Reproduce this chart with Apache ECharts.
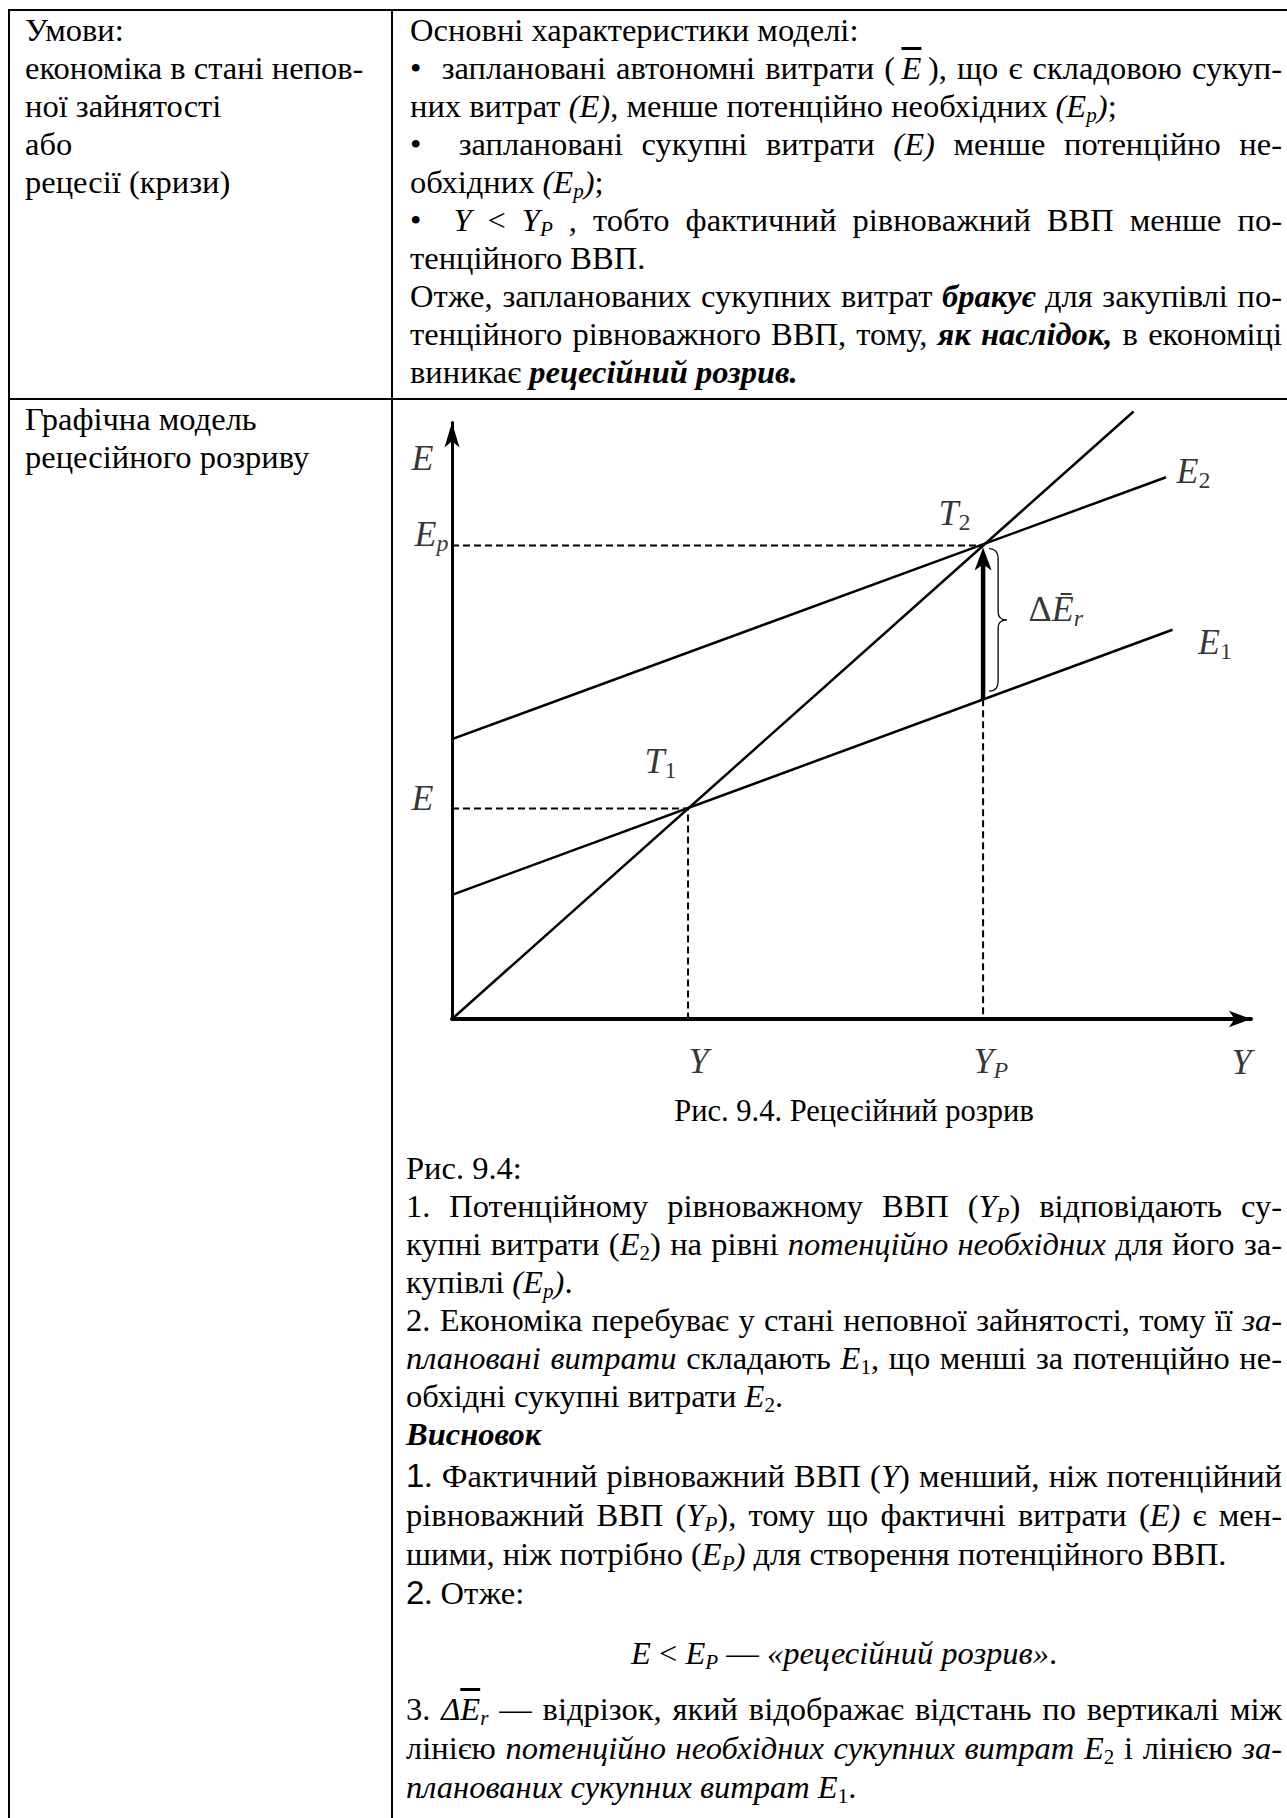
<!DOCTYPE html>
<html lang="uk">
<head>
<meta charset="utf-8">
<title>Рецесійний розрив</title>
<script src="https://cdn.jsdelivr.net/npm/echarts@6/dist/echarts.min.js"></script>
<style>
  html, body { margin: 0; padding: 0; background: #fff; }
  body {
    width: 1287px; height: 1818px; overflow: hidden; position: relative;
    font-family: 'Liberation Serif', 'Times New Roman', serif;
    font-size: 32.5px; line-height: 38px; color: #000;
  }
  .rule { position: absolute; background: #000; }
  .cell { position: absolute; }
  .j { text-align: justify; text-align-last: justify; }
  .c { text-align: center; }
  sub { font-size: 0.65em; line-height: 0; vertical-align: -0.25em; }
  .bar { text-decoration: overline; }
  .num { font-family: 'Liberation Sans', sans-serif; font-size: 33px; line-height: 0; }
  #chart { position: absolute; left: 393px; top: 400px; width: 894px; height: 692px; }
  #caption { position: absolute; left: 410px; top: 1092px; width: 888px; font-size: 30.5px; text-align: center; }
</style>
</head>
<body>
  <!-- рамка таблиці -->
  <div class="rule" style="left:8px; top:9px; width:1290px; height:2px"></div>
  <div class="rule" style="left:8px; top:398px; width:1290px; height:2px"></div>
  <div class="rule" style="left:8px; top:9px; width:2px; height:1820px"></div>
  <div class="rule" style="left:391px; top:9px; width:2px; height:1820px"></div>

  <div class="cell" style="left:25px; top:11px; width:360px">
    <div>Умови:</div>
    <div>економіка в стані непов-</div>
    <div>ної зайнятості</div>
    <div>або</div>
    <div>рецесії (кризи)</div>
  </div>

  <div class="cell" style="left:410px; top:11px; width:872px">
    <div>Основні характеристики моделі:</div>
    <div class="j">•&nbsp; заплановані автономні витрати (&thinsp;<i class="bar">E</i>&thinsp;), що є складовою сукуп-</div>
    <div>них витрат <i>(E)</i>, менше потенційно необхідних <i>(E<sub>p</sub>)</i>;</div>
    <div class="j">•&nbsp; заплановані сукупні витрати <i>(E)</i> менше потенційно не-</div>
    <div>обхідних <i>(E<sub>p</sub>)</i>;</div>
    <div class="j">•&nbsp; <i>Y</i> &lt; <i>Y<sub>P</sub></i> , тобто фактичний рівноважний ВВП менше по-</div>
    <div>тенційного ВВП.</div>
    <div class="j">Отже, запланованих сукупних витрат <b><i>бракує</i></b> для закупівлі по-</div>
    <div class="j">тенційного рівноважного ВВП, тому, <b><i>як наслідок,</i></b> в економіці</div>
    <div>виникає <b><i>рецесійний розрив.</i></b></div>
  </div>

  <div class="cell" style="left:25px; top:400px; width:360px">
    <div>Графічна модель</div>
    <div>рецесійного розриву</div>
  </div>

  <div id="chart"></div>
  <div id="caption">Рис. 9.4. Рецесійний розрив</div>

  <div class="cell" style="left:406px; top:1149px; width:876px">
    <div>Рис. 9.4:</div>
    <div class="j">1. Потенційному рівноважному ВВП (<i>Y<sub>P</sub></i>) відповідають су-</div>
    <div class="j">купні витрати (<i>E</i><sub>2</sub>) на рівні <i>потенційно необхідних</i> для його за-</div>
    <div>купівлі <i>(E<sub>p</sub>)</i>.</div>
    <div class="j">2. Економіка перебуває у стані неповної зайнятості, тому її <i>за-</i></div>
    <div class="j"><i>плановані витрати</i> складають <i>E</i><sub>1</sub>, що менші за потенційно не-</div>
    <div>обхідні сукупні витрати <i>E</i><sub>2</sub>.</div>
    <div><b><i>Висновок</i></b></div>
    <div style="margin-top:3.5px; line-height:39px">
      <div class="j"><span class="num">1</span>. Фактичний рівноважний ВВП (<i>Y</i>) менший, ніж потенційний</div>
      <div class="j">рівноважний ВВП (<i>Y<sub>P</sub></i>), тому що фактичні витрати (<i>E)</i> є мен-</div>
      <div>шими, ніж потрібно (<i>E<sub>P</sub>)</i> для створення потенційного ВВП.</div>
      <div><span class="num">2</span>. Отже:</div>
    </div>
    <div class="c" style="margin-top:21.5px"><i>E</i> &lt; <i>E<sub>P</sub></i> — <i>«рецесійний розрив»</i>.</div>
    <div style="margin-top:17.5px; line-height:39px">
      <div class="j">3. <i>Δ<span class="bar">E</span><sub>r</sub></i> — відрізок, який відображає відстань по вертикалі між</div>
      <div class="j">лінією <i>потенційно необхідних сукупних витрат E</i><sub>2</sub> і лінією <i>за-</i></div>
      <div><i>планованих сукупних витрат E</i><sub>1</sub>.</div>
    </div>
  </div>

<script>
// значення, умовні одиниці
const incomeLevels = [4, 9];          // Y, Y_P
const spendLevels = [4, 9];           // E, E_p
const diagLine = [[0, 0], [11.55, 11.55]];   // лінія 45°
const e1Line = [[0, 2.36], [12.21, 7.4]];    // заплановані витрати E1
const e2Line = [[0, 5.32], [12.1, 10.3]];    // потенційно необхідні E2
const e1AtYp = 6.08;                  // E1 при Y_P
const axisMax = [13.54, 11.34];

const ink = '#000';
const serif = 'Liberation Serif';
const [yLow, yPot] = incomeLevels;
const [eLow, ePot] = spendLevels;

const chart = echarts.init(document.getElementById('chart'), null, { renderer: 'svg' });

const rich = {
  i: { fontFamily: serif, fontStyle: 'italic', fontSize: 36, lineHeight: 42, color: ink },
  d: { fontFamily: serif, fontSize: 36, lineHeight: 42, color: ink },
  s: { fontFamily: serif, fontSize: 24, lineHeight: 24, padding: [18, 0, 0, 0], color: ink },
  si: { fontFamily: serif, fontStyle: 'italic', fontSize: 24, lineHeight: 24, padding: [18, 0, 0, 0], color: ink }
};

function tag(value, text, dx, dy) {
  return { value: value, label: { formatter: text, position: [dx, dy] } };
}

const labelData = [
  tag([0, axisMax[1]], '{i|E}', -40, 36),
  tag([0, ePot], '{i|E}{si|p}', -37, -11),
  tag([0, eLow], '{i|E}', -40, -10.5),
  tag([yLow, eLow], '{i|T}{s|1}', -43, -47.5),
  tag([yPot, ePot], '{i|T}{s|2}', -44, -32),
  tag(e2Line[1], '{i|E}{s|2}', 11, -6),
  tag(e1Line[1], '{i|E}{s|1}', 26, 12.5),
  tag([yPot, ePot], '{d|Δ}{i|Ē}{si|r}', 46, 64),
  tag([yLow, 0], '{i|Y}', 1, 42.5),
  tag([yPot, 0], '{i|Y}{si|P}', -9, 42),
  tag([axisMax[0], 0], '{i|Y}', -19, 43)
];

const solid = { color: ink, width: 2.5 };
const dashed = { color: ink, width: 2, type: [7, 4] };

function plain(data, lineStyle) {
  return { type: 'line', data: data, showSymbol: false, silent: true, clip: false, lineStyle: lineStyle };
}

chart.setOption({
  animation: false,
  grid: { left: 59, top: 22.5, width: 799, height: 596.5 },
  xAxis: {
    type: 'value', min: 0, max: axisMax[0],
    axisLine: { onZero: false, lineStyle: { color: ink, width: 4 }, symbol: ['none', 'arrow'], symbolSize: [12.5, 22] },
    axisTick: { show: false }, axisLabel: { show: false }, splitLine: { show: false }
  },
  yAxis: {
    type: 'value', min: 0, max: axisMax[1],
    axisLine: { onZero: false, lineStyle: { color: ink, width: 3 }, symbol: ['none', 'arrow'], symbolSize: [11.25, 25] },
    axisTick: { show: false }, axisLabel: { show: false }, splitLine: { show: false }
  },
  series: [
    plain(diagLine, solid),
    plain(e2Line, solid),
    plain(e1Line, solid),
    plain([[0, eLow], [yLow, eLow], [yLow, 0]], dashed),
    plain([[0, ePot], [yPot, ePot]], dashed),
    plain([[yPot, e1AtYp], [yPot, 0]], dashed),
    {
      // приріст автономних витрат: стрілка і фігурна дужка
      type: 'custom', silent: true, clip: false, z: 5,
      data: [[yPot, e1AtYp, ePot]],
      renderItem: function (params, api) {
        const from = api.coord([api.value(0), api.value(1)]);
        const to = api.coord([api.value(0), api.value(2)]);
        const x = to[0];
        const tip = to[1] + 2;
        const head = 23, half = 8.5, notch = 6;
        const by0 = to[1] + 3, by1 = from[1] - 8, bm = (by0 + by1) / 2;
        const bx = x + 6, vx = x + 15, px = x + 24;
        const brace = 'M' + bx + ' ' + by0 + ' Q' + vx + ' ' + by0 + ' ' + vx + ' ' + (by0 + 10) +
          ' L' + vx + ' ' + (bm - 8) + ' Q' + vx + ' ' + bm + ' ' + px + ' ' + bm +
          ' Q' + vx + ' ' + bm + ' ' + vx + ' ' + (bm + 8) +
          ' L' + vx + ' ' + (by1 - 10) + ' Q' + vx + ' ' + by1 + ' ' + bx + ' ' + by1;
        return {
          type: 'group',
          children: [
            { type: 'line', shape: { x1: x, y1: from[1], x2: x, y2: tip + head - notch }, style: { stroke: ink, lineWidth: 4.5 } },
            { type: 'polygon', shape: { points: [[x, tip], [x + half, tip + head], [x, tip + head - notch], [x - half, tip + head]] }, style: { fill: ink } },
            { type: 'path', shape: { pathData: brace }, style: { stroke: ink, fill: 'none', lineWidth: 1.3 } }
          ]
        };
      }
    },
    {
      type: 'scatter', silent: true, clip: false, z: 10,
      symbolSize: 1, itemStyle: { color: 'rgba(0,0,0,0)' },
      data: labelData,
      label: { show: true, align: 'left', verticalAlign: 'middle', rich: rich }
    }
  ]
});
</script>
</body>
</html>
